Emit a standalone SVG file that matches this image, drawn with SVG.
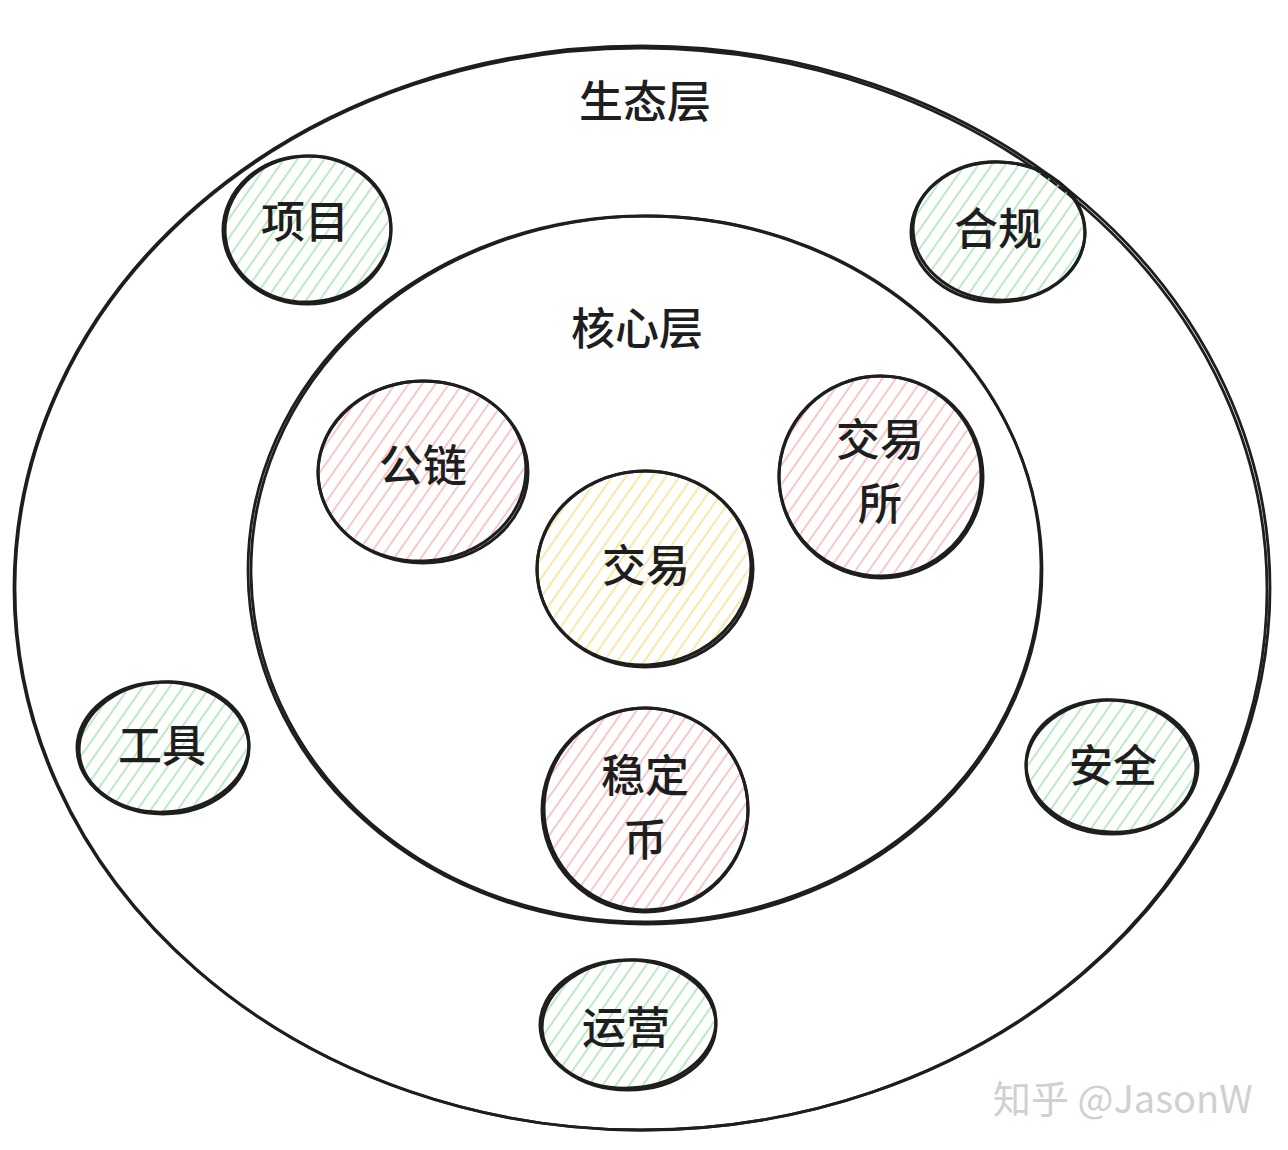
<svg xmlns="http://www.w3.org/2000/svg" width="1288" height="1150" viewBox="0 0 1288 1150">
<style>
.ring{fill:none;stroke:#1e1e1e;stroke-width:2.8;stroke-linecap:round}
.o{fill:none;stroke:#1e1e1e;stroke-width:3}
.t{font-family:"Noto Sans CJK SC","Noto Sans",sans-serif;font-weight:500;font-size:44px;fill:#1e1e1e;text-anchor:middle}
.wm{font-family:"Noto Sans CJK SC","Liberation Sans",sans-serif;font-size:38px;fill:#d0d0d0;text-anchor:start}
</style>
<defs>
<pattern id="hg" width="11" height="11" patternUnits="userSpaceOnUse" patternTransform="rotate(-55)"><line x1="0" y1="5" x2="11" y2="5" stroke="#a6e3af" stroke-width="1.5"/></pattern>
<pattern id="hr" width="11" height="11" patternUnits="userSpaceOnUse" patternTransform="rotate(-55)"><line x1="0" y1="5" x2="11" y2="5" stroke="#f5b5b5" stroke-width="1.5"/></pattern>
<pattern id="hy" width="11" height="11" patternUnits="userSpaceOnUse" patternTransform="rotate(-55)"><line x1="0" y1="5" x2="11" y2="5" stroke="#f7e18a" stroke-width="1.5"/></pattern>
</defs>
<rect width="1288" height="1150" fill="#ffffff"/>
<g id="outer-layer">
<ellipse class="ring" cx="642" cy="588" rx="628" ry="542"/>
<ellipse class="ring" cx="641" cy="589" rx="626" ry="541" transform="rotate(0.3 641 589)"/>
<text class="t" x="645" y="118">生态层</text>
</g>
<g id="core-layer">
<ellipse class="ring" cx="645" cy="570" rx="397" ry="354"/>
<ellipse class="ring" cx="646" cy="569" rx="395" ry="353" transform="rotate(-1 646 569)"/>
<text class="t" x="637" y="345">核心层</text>
</g>
<g id="node-xiangmu">
<ellipse cx="307" cy="230" rx="84" ry="74" fill="url(#hg)"/>
<ellipse class="o" cx="307" cy="230" rx="84" ry="74"/>
<ellipse class="o" cx="308" cy="229" rx="83" ry="73" transform="rotate(-4 308 229)"/>
<text class="t" x="305" y="238">项目</text>
</g>
<g id="node-hegui">
<ellipse cx="998" cy="232" rx="87" ry="70" fill="url(#hg)"/>
<ellipse class="o" cx="998" cy="232" rx="87" ry="70"/>
<ellipse class="o" cx="999" cy="231" rx="86" ry="69" transform="rotate(4 999 231)"/>
<text class="t" x="998" y="245">合规</text>
</g>
<g id="node-gongju">
<ellipse cx="163" cy="748" rx="86" ry="66" fill="url(#hg)"/>
<ellipse class="o" cx="163" cy="748" rx="86" ry="66"/>
<ellipse class="o" cx="164" cy="747" rx="85" ry="65" transform="rotate(-4 164 747)"/>
<text class="t" x="162" y="762">工具</text>
</g>
<g id="node-anquan">
<ellipse cx="1112" cy="767" rx="86" ry="67" fill="url(#hg)"/>
<ellipse class="o" cx="1112" cy="767" rx="86" ry="67"/>
<ellipse class="o" cx="1111" cy="766" rx="85" ry="66" transform="rotate(4 1111 766)"/>
<text class="t" x="1113" y="782">安全</text>
</g>
<g id="node-yunying">
<ellipse cx="628" cy="1025" rx="88" ry="65" fill="url(#hg)"/>
<ellipse class="o" cx="628" cy="1025" rx="88" ry="65"/>
<ellipse class="o" cx="629" cy="1024" rx="87" ry="64" transform="rotate(-4 629 1024)"/>
<text class="t" x="626" y="1044">运营</text>
</g>
<g id="node-gonglian">
<ellipse cx="423" cy="472" rx="105" ry="91" fill="url(#hr)"/>
<ellipse class="o" cx="423" cy="472" rx="105" ry="91"/>
<ellipse class="o" cx="422" cy="471" rx="104" ry="90" transform="rotate(-4 422 471)"/>
<text class="t" x="423" y="482">公链</text>
</g>
<g id="node-jiaoyisuo">
<ellipse cx="881" cy="477" rx="102" ry="101" fill="url(#hr)"/>
<ellipse class="o" cx="881" cy="477" rx="102" ry="101"/>
<ellipse class="o" cx="880" cy="476" rx="101" ry="100" transform="rotate(5 880 476)"/>
<text class="t" x="880" y="456">交易</text>
<text class="t" x="880" y="520">所</text>
</g>
<g id="node-jiaoyi">
<ellipse cx="645" cy="569" rx="108" ry="98" fill="url(#hy)"/>
<ellipse class="o" cx="645" cy="569" rx="108" ry="98"/>
<ellipse class="o" cx="644" cy="568" rx="107" ry="97" transform="rotate(-4 644 568)"/>
<text class="t" x="646" y="582">交易</text>
</g>
<g id="node-wendingbi">
<ellipse cx="645" cy="810" rx="103" ry="102" fill="url(#hr)"/>
<ellipse class="o" cx="645" cy="810" rx="103" ry="102"/>
<ellipse class="o" cx="646" cy="809" rx="102" ry="101" transform="rotate(4 646 809)"/>
<text class="t" x="645" y="792">稳定</text>
<text class="t" x="645" y="856">币</text>
</g>
<g id="connectors"></g>
<text class="wm" x="993" y="1113">知乎 @JasonW</text>
</svg>
